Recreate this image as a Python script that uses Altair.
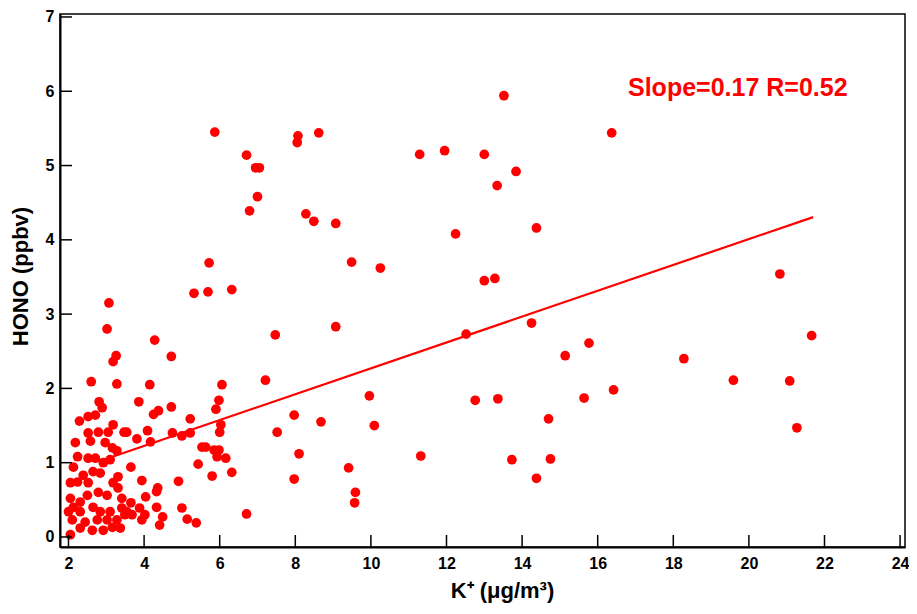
import altair as alt
import pandas as pd

# K+ (ug/m3) and HONO (ppbv) values
k_plus = [
    5.87, 6.71, 6.95, 7.05, 7.00, 6.79, 5.72, 5.69, 5.32, 6.32,
    8.07, 8.05, 8.62, 8.28, 8.49, 9.07, 9.49, 10.25, 9.07, 7.47,
    7.21, 7.52, 7.97, 8.68, 8.10, 7.97, 6.71, 9.96, 10.09, 9.41,
    9.59, 9.57, 11.29, 11.95, 13.00, 13.52, 13.84, 13.34, 12.24, 14.38,
    13.00, 13.28, 12.52, 14.25, 12.76, 13.36, 13.73, 14.38, 11.32, 14.75,
    14.70, 15.14, 15.77, 15.64, 16.42, 16.37, 18.28, 19.59, 20.82, 21.08,
    21.27, 21.66,
    4.72, 6.06, 5.98, 5.90, 4.72, 5.22, 6.03, 6.00, 4.75, 5.00,
    5.22, 5.53, 5.63, 5.85, 5.98, 5.93, 6.16, 5.43, 5.80, 6.32,
    4.91, 5.00, 5.14, 5.38,
    4.15, 3.86, 4.25, 4.38, 3.54, 4.09, 3.81, 4.17, 3.07, 3.02,
    4.28, 3.26, 3.18, 2.60, 3.28, 2.81, 2.89, 2.71, 2.52, 2.29,
    3.18, 3.05, 2.79, 2.52, 3.47, 2.18, 2.58, 2.97, 3.16, 3.28,
    3.65, 3.94, 4.04, 4.33, 4.36, 3.65, 3.88, 4.02, 4.33, 3.68,
    3.54, 3.94, 4.49, 4.41,
    2.24, 2.13, 2.05, 2.05, 2.00, 2.10, 2.05, 2.52, 2.71, 2.92,
    3.10, 2.65, 2.84, 2.39, 2.24, 2.52, 3.18, 3.31, 3.31, 2.50,
    2.79, 3.02, 3.41, 2.31, 2.13, 2.31, 2.65, 2.84, 3.10, 3.41,
    2.44, 2.76, 3.02, 3.28, 3.49, 2.31, 2.63, 2.92, 3.16, 3.37,
]
hono = [
    5.45, 5.14, 4.97, 4.97, 4.58, 4.39, 3.69, 3.30, 3.28, 3.33,
    5.40, 5.31, 5.44, 4.35, 4.25, 4.22, 3.70, 3.62, 2.83, 2.72,
    2.11, 1.41, 1.64, 1.55, 1.12, 0.78, 0.31, 1.90, 1.50, 0.93,
    0.60, 0.46, 5.15, 5.20, 5.15, 5.94, 4.92, 4.73, 4.08, 4.16,
    3.45, 3.48, 2.73, 2.88, 1.84, 1.86, 1.04, 0.79, 1.09, 1.05,
    1.59, 2.44, 2.61, 1.87, 1.98, 5.44, 2.40, 2.11, 3.54, 2.10,
    1.47, 2.71,
    2.43, 2.05, 1.84, 1.72, 1.75, 1.59, 1.51, 1.41, 1.40, 1.36,
    1.40, 1.21, 1.21, 1.17, 1.17, 1.08, 1.06, 0.98, 0.82, 0.87,
    0.75, 0.39, 0.24, 0.19,
    2.05, 1.82, 1.65, 1.70, 1.41, 1.43, 1.32, 1.28, 3.15, 2.80,
    2.65, 2.44, 2.36, 2.09, 2.06, 1.82, 1.74, 1.64, 1.62, 1.56,
    1.51, 1.41, 1.41, 1.40, 1.41, 1.27, 1.29, 1.27, 1.20, 1.16,
    0.94, 0.76, 0.54, 0.61, 0.66, 0.46, 0.39, 0.30, 0.40, 0.30,
    0.34, 0.23, 0.27, 0.16,
    1.08, 0.94, 0.73, 0.52, 0.34, 0.23, 0.03, 1.06, 1.06, 1.00,
    1.04, 0.88, 0.86, 0.83, 0.74, 0.73, 0.73, 0.81, 0.66, 0.56,
    0.60, 0.56, 0.52, 0.47, 0.40, 0.34, 0.40, 0.34, 0.34, 0.39,
    0.20, 0.23, 0.23, 0.23, 0.30, 0.12, 0.09, 0.09, 0.13, 0.12,
]

# linear fit shown in the figure
fit_x = [2.95, 21.7]
slope = 0.174
intercept = 0.53
fit_y = [intercept + slope * v for v in fit_x]

x_ticks = [2, 4, 6, 8, 10, 12, 14, 16, 18, 20, 22, 24]
y_ticks = [0, 1, 2, 3, 4, 5, 6, 7]
annotation = ["Slope=0.17 R=0.52"]

W, H = 845, 533
FONT = "Liberation Sans"

pts = pd.DataFrame({"k": k_plus, "hono": hono})
fit = pd.DataFrame({"k": fit_x, "hono": fit_y})
xt = pd.DataFrame({"k": x_ticks})
yt = pd.DataFrame({"hono": y_ticks})
ann = pd.DataFrame({"t": annotation})

xscale = alt.Scale(domain=[1.775, 24.13], nice=False, zero=False)
yscale = alt.Scale(domain=[-0.135, 7.04], nice=False, zero=False)

x_enc = alt.X(
    "k:Q", scale=xscale,
    title="K⁺ (μg/m³)",
    axis=alt.Axis(values=x_ticks, format="d", ticks=False, domain=True,
                  domainColor="black", domainWidth=2, grid=False,
                  labelFont=FONT, labelFontSize=16, labelFontWeight="bold",
                  labelColor="black", labelPadding=8,
                  titleFont=FONT, titleFontSize=22, titleFontWeight="bold",
                  titleColor="black", titlePadding=9, titleX=442),
)
y_enc = alt.Y(
    "hono:Q", scale=yscale,
    title="HONO (ppbv)",
    axis=alt.Axis(values=y_ticks, format="d", ticks=False, domain=True,
                  domainColor="black", domainWidth=2, grid=False,
                  labelFont=FONT, labelFontSize=16, labelFontWeight="bold",
                  labelColor="black", labelPadding=6,
                  titleFont=FONT, titleFontSize=22, titleFontWeight="bold",
                  titleColor="black", titlePadding=13, titleY=262),
)

points = alt.Chart(pts).mark_circle(size=95, color="#ff0000", opacity=1).encode(
    x=x_enc, y=y_enc
)

line = alt.Chart(fit).mark_line(color="#ff0000", strokeWidth=2.2).encode(
    x=alt.X("k:Q", scale=xscale), y=alt.Y("hono:Q", scale=yscale)
)

xticks = alt.Chart(xt).mark_rule(color="black", strokeWidth=1.5).encode(
    x=alt.X("k:Q", scale=xscale), y=alt.value(H), y2=alt.value(H - 12)
)
yticks = alt.Chart(yt).mark_rule(color="black", strokeWidth=1.5).encode(
    y=alt.Y("hono:Q", scale=yscale), x=alt.value(0), x2=alt.value(12)
)

label = alt.Chart(ann).mark_text(
    color="#ff0000", font=FONT, fontSize=25, fontWeight="bold",
    align="left", baseline="middle"
).encode(text="t:N", x=alt.value(568), y=alt.value(74))

chart = alt.layer(points, line, xticks, yticks, label).properties(
    width=W, height=H,
    padding={"left": 52, "top": 6, "right": 4, "bottom": 58},
    autosize=alt.AutoSizeParams(type="none"),
    background="white",
).configure_view(stroke="black", strokeWidth=1.5)

chart.save("out.html", embed_options={"renderer": "svg", "actions": False})
